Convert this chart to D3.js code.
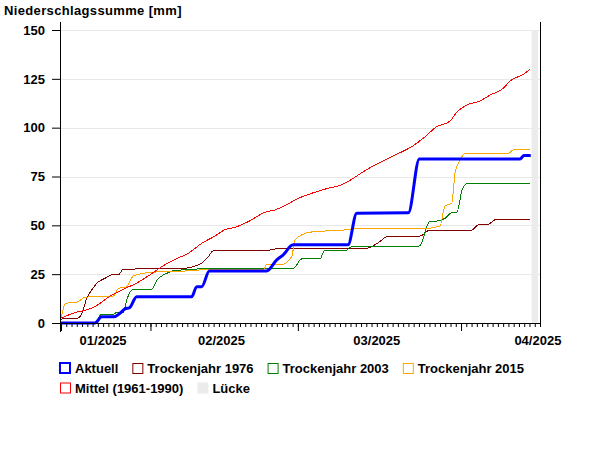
<!DOCTYPE html>
<html>
<head>
<meta charset="utf-8">
<script src="https://cdn.jsdelivr.net/npm/d3@7"></script>
<style>
  body { margin: 0; background: #fff; }
  svg { font-family: "Liberation Sans", Arial, sans-serif; font-weight: bold; font-size: 13px; }
</style>
</head>
<body>
<script>
const width = 600;
const height = 460;
const plotLeft = 61, plotRight = 540, plotTop = 30, plotBottom = 323;

// time range shown (day offsets below are counted from startDate)
const startDate = new Date(2025, 0, 15);
const endDate = new Date(2025, 3, 16);

const yTicks = [0, 25, 50, 75, 100, 125, 150];
const monthLabels = ["01/2025", "02/2025", "03/2025", "04/2025"];
const monthLabelDays = [8, 30.5, 60, 90.6];
const gapDays = [89.4, 90.6];

// Aktuell
const aktuellDays = [0, 6.46, 7.73, 10.07, 11.2, 12.16, 13.0, 14.38, 24.83, 25.78, 26.73, 28.18, 39.08, 40.98, 42.18, 44.08, 54.53, 56.18, 65.99, 68.08, 87.21, 87.97, 89.24];
const aktuellValues = [0, 0, 3.2, 3.2, 5, 7.2, 7.8, 13.5, 13.5, 18.6, 18.6, 26.6, 26.6, 32.3, 34.8, 40, 40, 56.2, 56.4, 84, 84, 85.7, 85.7];

// Trockenjahr 1976
const dry1976Days = [0, 0.5, 2.98, 3.93, 4.88, 5.83, 6.78, 8.36, 9.63, 10.89, 11.84, 23.56, 25.46, 26.73, 27.99, 28.94, 40.34, 40.66, 57.44, 59.03, 60.29, 62.19, 68.21, 70.11, 78.03, 79.29, 80.88, 82.78, 89.11];
const dry1976Values = [1.5, 2.4, 2.4, 4.6, 12.6, 16.9, 20.3, 22.9, 24.6, 24.6, 27.5, 28, 29.2, 30.6, 34, 37, 37.4, 37.9, 37.9, 39.1, 41.1, 44.5, 44.5, 47.6, 47.6, 50.2, 50.2, 53.1, 53.1];

// Trockenjahr 2003
const dry2003Days = [0, 6.46, 7.73, 10.13, 10.58, 11.84, 12.48, 13.74, 17.23, 18.18, 20.39, 21.03, 23.56, 30.53, 44.13, 45.73, 49.2, 50.03, 53.96, 55.23, 68.08, 70.11, 71.38, 72.96, 74.23, 75.18, 76.24, 77.08, 89.11];
const dry2003Values = [0, 0, 4.6, 4.6, 5.5, 5.5, 11.8, 17.2, 17.2, 21.7, 25.8, 26.6, 27.3, 28, 28, 32.8, 32.8, 36.9, 36.9, 39.1, 39.4, 52.2, 52.2, 53.6, 56.5, 56.5, 68.5, 71.2, 71.2];

// Trockenjahr 2015
const dry2015Days = [0, 0.89, 2.98, 4.56, 9.94, 10.89, 12.48, 13.74, 15.64, 16.91, 21.66, 29.26, 38.43, 39.08, 41.93, 43.83, 44.46, 45.73, 47.63, 53.32, 57.44, 69.79, 72.01, 72.96, 74.23, 74.86, 75.81, 76.89, 84.99, 85.94, 89.11];
const dry2015Values = [2.5, 10.1, 10.6, 13.2, 13.8, 17.6, 18.6, 24.1, 25.4, 26, 26.3, 27.5, 27.5, 30, 30, 34, 42.5, 45.1, 46.6, 47.5, 48.5, 48.5, 49.7, 60, 61.3, 76.7, 83.5, 86.9, 86.9, 88.6, 88.6];

// Mittel (1961-1990)
const meanDays = [0, 2.66, 5.19, 6.46, 8.99, 11.53, 14.06, 16.59, 19.13, 21.66, 24.19, 26.73, 29.26, 31.16, 33.06, 35.59, 38.76, 40.66, 42.56, 45.09, 47.63, 50.79, 53.01, 55.23, 57.76, 59.66, 62.51, 66.93, 68.83, 71.38, 73.91, 75.18, 77.08, 79.61, 81.51, 84.04, 85.31, 87.84, 89.11];
const meanValues = [2.5, 5.3, 7, 8.4, 13.2, 16.9, 20, 24.1, 28.8, 32.6, 35.7, 40.8, 44.5, 47.8, 49, 51.9, 56.7, 57.9, 60.1, 63.8, 66.4, 69, 70.4, 73.6, 78, 80.9, 84.8, 90.8, 94.6, 100.5, 103.4, 107.9, 111.6, 113.7, 116.7, 120.2, 123.9, 127.3, 129.9];

const legendLabels = ["Aktuell", "Trockenjahr 1976", "Trockenjahr 2003", "Trockenjahr 2015", "Mittel (1961-1990)", "Lücke"];
const legendColors = ["#0000ff", "#800000", "#008000", "#ffa500", "#ff0000", "#ebebeb"];

const dayToDate = (d) => new Date(startDate.getTime() + d * 864e5);

const canvas = d3
  .select("body")
  .append("svg")
  .attr("width", width)
  .attr("height", height);

const xScale = d3.scaleTime().domain([startDate, endDate]).range([plotLeft, plotRight]);
const yScale = d3.scaleLinear().domain([0, 150]).range([plotBottom, plotTop]);

// title
canvas.append("text").attr("x", 4).attr("y", 15).style("letter-spacing", "0.35px").text("Niederschlagssumme [mm]");

// grid lines
canvas
  .append("g")
  .selectAll("line")
  .data(yTicks.slice(1))
  .enter()
  .append("line")
  .attr("x1", plotLeft)
  .attr("x2", plotRight)
  .attr("y1", (d) => Math.round(yScale(d)) + 0.5)
  .attr("y2", (d) => Math.round(yScale(d)) + 0.5)
  .style("stroke", "#e8e8e8")
  .style("stroke-width", 1);

// gap band (Lücke)
canvas
  .append("rect")
  .attr("x", xScale(dayToDate(gapDays[0])))
  .attr("width", xScale(dayToDate(gapDays[1])) - xScale(dayToDate(gapDays[0])))
  .attr("y", plotTop)
  .attr("height", plotBottom - plotTop)
  .style("fill", "#ebebeb");

// y axis ticks + labels
const yAxis = d3.axisLeft(yScale).tickValues(yTicks).tickSize(8).tickPadding(7);
const yg = canvas.append("g").attr("transform", "translate(" + (plotLeft - 1) + ",0)").call(yAxis);
yg.select(".domain").remove();
yg.selectAll("text").style("font-size", "13px").style("font-weight", "bold").style("fill", "#000");

// x axis: daily minor ticks, monthly major ticks
const dayTicks = d3.timeDay.range(startDate, d3.timeDay.offset(endDate, 1));
const monthTicks = [startDate].concat(d3.timeMonth.range(startDate, endDate));

const xMinor = canvas
  .append("g")
  .attr("transform", "translate(0," + plotBottom + ")")
  .call(d3.axisBottom(xScale).tickValues(dayTicks).tickSize(4).tickFormat(""));
xMinor.select(".domain").remove();

const xMajor = canvas
  .append("g")
  .attr("transform", "translate(0," + plotBottom + ")")
  .call(d3.axisBottom(xScale).tickValues(monthTicks).tickSize(8).tickFormat(""));
xMajor.select(".domain").remove();

canvas
  .append("g")
  .selectAll("text")
  .data(monthLabels)
  .enter()
  .append("text")
  .attr("x", (d, i) => xScale(dayToDate(monthLabelDays[i])))
  .attr("y", 345)
  .attr("text-anchor", "middle")
  .text((d) => d);

// series lines
const line = d3
  .line()
  .x((d) => xScale(dayToDate(d[0])))
  .y((d) => yScale(d[1]))
  .curve(d3.curveMonotoneX);

const series = [
  { days: dry1976Days, values: dry1976Values, color: "#800000", w: 1 },
  { days: dry2003Days, values: dry2003Values, color: "#008000", w: 1 },
  { days: dry2015Days, values: dry2015Values, color: "#ffa500", w: 1 },
  { days: meanDays, values: meanValues, color: "#ff0000", w: 1 },
  { days: aktuellDays, values: aktuellValues, color: "#0000ff", w: 3 },
];

canvas
  .append("g")
  .selectAll("path")
  .data(series)
  .enter()
  .append("path")
  .attr("d", (s) => line(s.days.map((d, i) => [d, s.values[i]])))
  .style("fill", "none")
  .style("stroke", (s) => s.color)
  .style("stroke-width", (s) => s.w)
  .style("shape-rendering", (s) => (s.w === 1 ? "crispEdges" : "auto"));

// axis lines
canvas.append("line").attr("x1", plotLeft - 0.5).attr("x2", plotLeft - 0.5).attr("y1", 22).attr("y2", 332).style("stroke", "#000");
canvas.append("line").attr("x1", plotRight + 0.5).attr("x2", plotRight + 0.5).attr("y1", 22).attr("y2", 325).style("stroke", "#000");
canvas.append("line").attr("x1", plotLeft - 1).attr("x2", plotRight + 1).attr("y1", plotBottom + 0.5).attr("y2", plotBottom + 0.5).style("stroke", "#000");

// legend, items flow left to right and wrap
const legend = canvas.append("g");
let lx = 60, ly = 363;
legendLabels.forEach((label, i) => {
  const isGap = i === legendLabels.length - 1;
  const probe = legend.append("text").text(label);
  const w = 15 + probe.node().getComputedTextLength();
  probe.remove();
  if (lx + w > 540 && lx > 60) {
    lx = 60;
    ly += 19.5;
  }
  const item = legend.append("g");
  if (isGap) {
    item.append("rect").attr("x", lx).attr("y", ly).attr("width", 11).attr("height", 11).style("fill", legendColors[i]);
  } else if (i === 0) {
    item.append("rect").attr("x", lx).attr("y", ly).attr("width", 10).attr("height", 10)
      .style("fill", "none").style("stroke", legendColors[i]).style("stroke-width", 2);
  } else {
    item.append("rect").attr("x", lx + 0.5).attr("y", ly + 0.5).attr("width", 10).attr("height", 10)
      .style("fill", "none").style("stroke", legendColors[i]).style("stroke-width", 1);
  }
  item.append("text").attr("x", lx + 15).attr("y", ly + 10).text(label);
  lx += w + 14;
});
</script>
</body>
</html>
